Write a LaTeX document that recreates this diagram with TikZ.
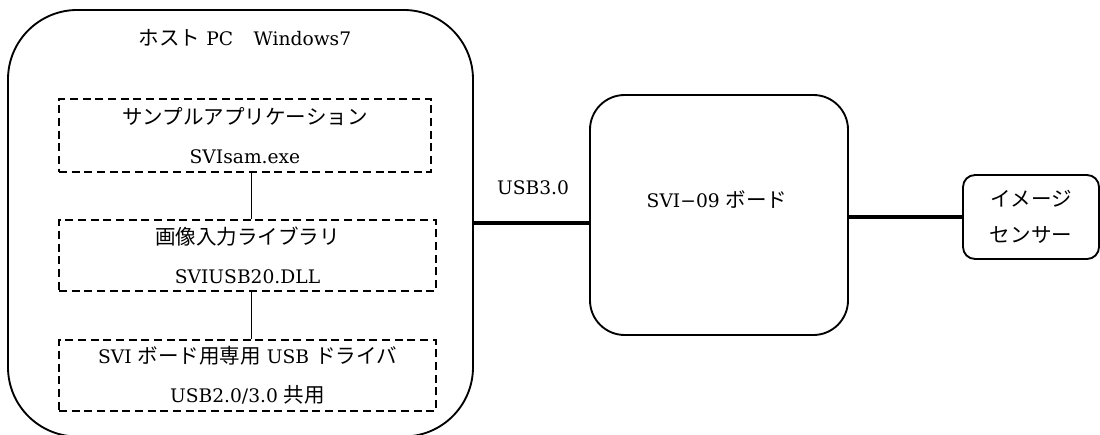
\documentclass[tikz,border=0pt]{standalone}
\usepackage{fontspec}
\setmainfont{DejaVu Serif}
\newfontfamily\jp[Scale=1.1]{Noto Sans CJK JP}
\usetikzlibrary{calc}

\begin{document}
\begin{tikzpicture}[x=0.75pt, y=-0.75pt, font=\fontsize{14}{29}\selectfont, line width=1.4pt] % 1単位=1px、y軸は下向き
  \tikzset{
    hostbox/.style={draw, rounded corners=52pt, minimum width=348.75pt, minimum height=319.9pt}, % ホストPCの枠
    layerbox/.style={draw, dash pattern=on 6pt off 3.5pt, align=center, inner sep=0pt}, % 破線の枠
    boardbox/.style={draw, rounded corners=26pt, minimum width=193.5pt, minimum height=180pt},
    sensorbox/.style={draw, rounded corners=9pt, minimum width=102pt, minimum height=63pt, align=center, font=\fontsize{14}{27}\selectfont},
    usbline/.style={line width=3pt} % 太線
  }
  \useasboundingbox (0,0) rectangle (1100,435); % 図の範囲

  \node[hostbox] (host) at (240.5,223.25) {};
  \node (hosttitle) at (245,38) {{\jp ホスト} PC\hspace{1.1em}Windows7};

  \node[layerbox, minimum width=279pt, minimum height=54.75pt] (app) at (245,135.5) {{\jp サンプルアプリケーション}\\SVIsam.exe};
  \node[layerbox, minimum width=282.75pt, minimum height=53.25pt] (lib) at (247.5,255.5) {{\jp 画像入力ライブラリ}\\SVIUSB20.DLL};
  \node[layerbox, minimum width=282.75pt, minimum height=53.25pt] (drv) at (247.5,375.5) {SVI {\jp ボード用専用} USB {\jp ドライバ}\\USB2.0/3.0 {\jp 共用}};
  \draw ($(lib.north)+(4,0)$) -- ($(lib.north |- app.south)+(4,0)$); % 縦の接続線
  \draw ($(drv.north)+(4,0)$) -- ($(drv.north |- lib.south)+(4,0)$);

  \node[boardbox] (board) at (719,215) {};
  \node (boardname) at (717,200) {SVI−09 {\jp ボード}};
  \node[sensorbox] (sensor) at (1031,217) {{\jp イメージ}\\{\jp センサー}};

  \draw[usbline] (host.east) -- (host.east -| board.west); % USBケーブル
  \node (usb) at (533,188) {USB3.0};
  \draw[usbline] (board.east |- sensor.west) -- (sensor.west);

\end{tikzpicture}
\end{document}
